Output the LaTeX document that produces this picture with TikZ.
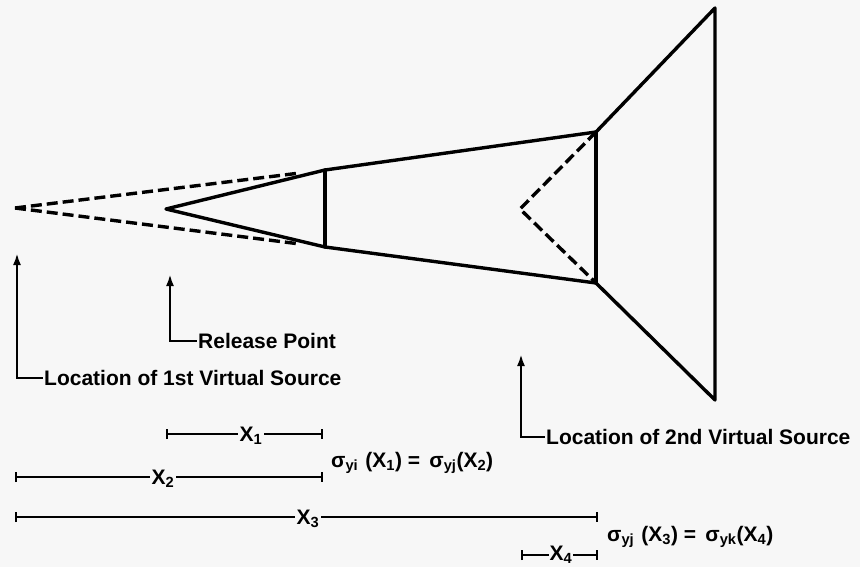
\documentclass[tikz,border=0pt]{standalone}
\usepackage{fontspec}
\setmainfont{Liberation Sans}
\usetikzlibrary{arrows.meta}
\definecolor{bg}{RGB}{247,247,247}
\begin{document}
\begin{tikzpicture}[x=1pt,y=-1pt,
  main/.style={line width=3.4pt, line join=round, line cap=round},
  dashline/.style={line width=3.4pt, dash pattern=on 11pt off 5pt},
  lbl/.style={font=\fontsize{21}{23}\selectfont\bfseries, inner sep=1pt, anchor=west},
  dimlbl/.style={font=\fontsize{21}{23}\selectfont\bfseries, inner sep=2pt, fill=bg},
  eqlbl/.style={font=\fontsize{21}{23}\selectfont\bfseries, inner sep=1pt, anchor=west},
  pointer/.style={line width=2.4pt, line join=miter, {Latex[length=12pt,width=8pt]}-},
  dimline/.style={line width=2pt, {Bar[width=10pt]}-{Bar[width=10pt]}}
]
\fill[bg] (0,0) rectangle (860,567);
\useasboundingbox (0,0) rectangle (860,567);

% key points
\coordinate (vs1) at (15,208);
\coordinate (rp) at (166,209);
\coordinate (a1t) at (325,170);
\coordinate (a1b) at (325,247);
\coordinate (d1t) at (300,173);
\coordinate (d1b) at (300,244);
\coordinate (a2t) at (596,132);
\coordinate (a2b) at (596,283);
\coordinate (vs2) at (520,209);
\coordinate (tt) at (715,8);
\coordinate (tb) at (715,400);

% plume outline
\draw[main] (rp) -- (a1t) -- (a2t) -- (tt) -- (tb) -- (a2b) -- (a1b) -- cycle;
\draw[main] (a1t) -- (a1b);
\draw[main] (a2t) -- (a2b);
% virtual source dashed lines
\draw[dashline] (vs1) -- (d1t);
\draw[dashline] (vs1) -- (d1b);
\draw[dashline] (a2t) -- (vs2) -- (a2b);

% pointers
\coordinate (p1tip) at (17,253);
\coordinate (p1c) at (17,378);
\coordinate (p1e) at (43,378);
\draw[pointer] (p1tip) -- (p1c) -- (p1e);
\node[lbl] (l1) at (p1e) {Location of 1st Virtual Source};

\coordinate (p2tip) at (170,274);
\coordinate (p2c) at (170,341);
\coordinate (p2e) at (197,341);
\draw[pointer] (p2tip) -- (p2c) -- (p2e);
\node[lbl] (l2) at (p2e) {Release Point};

\coordinate (p3tip) at (521,354);
\coordinate (p3c) at (521,437);
\coordinate (p3e) at (545,437);
\draw[pointer] (p3tip) -- (p3c) -- (p3e);
\node[lbl] (l3) at (p3e) {Location of 2nd Virtual Source};

% dimensions
\coordinate (x1l) at (166,434);
\coordinate (x1r) at (323,434);
\draw[dimline] (x1l) -- (x1r);
\node[dimlbl] (nx1) at (251,436) {X\textsubscript{1}};

\coordinate (x2l) at (15,477);
\coordinate (x2r) at (323,477);
\draw[dimline] (x2l) -- (x2r);
\node[dimlbl] (nx2) at (163,479) {X\textsubscript{2}};

\coordinate (x3l) at (15,517);
\coordinate (x3r) at (598,517);
\draw[dimline] (x3l) -- (x3r);
\node[dimlbl] (nx3) at (308,519) {X\textsubscript{3}};

\coordinate (x4l) at (521,555);
\coordinate (x4r) at (598,555);
\draw[dimline] (x4l) -- (x4r);
\node[dimlbl, inner sep=1pt] (nx4) at (561,555) {X\textsubscript{4}};

\node[eqlbl] (eq1) at (330,463) {σ\textsubscript{yi}\,\,(X\textsubscript{1}) = \,σ\textsubscript{yj}(X\textsubscript{2})};
\node[eqlbl] (eq2) at (606,537) {σ\textsubscript{yj}\,\,(X\textsubscript{3}) = \,σ\textsubscript{yk}(X\textsubscript{4})};
\end{tikzpicture}
\end{document}
